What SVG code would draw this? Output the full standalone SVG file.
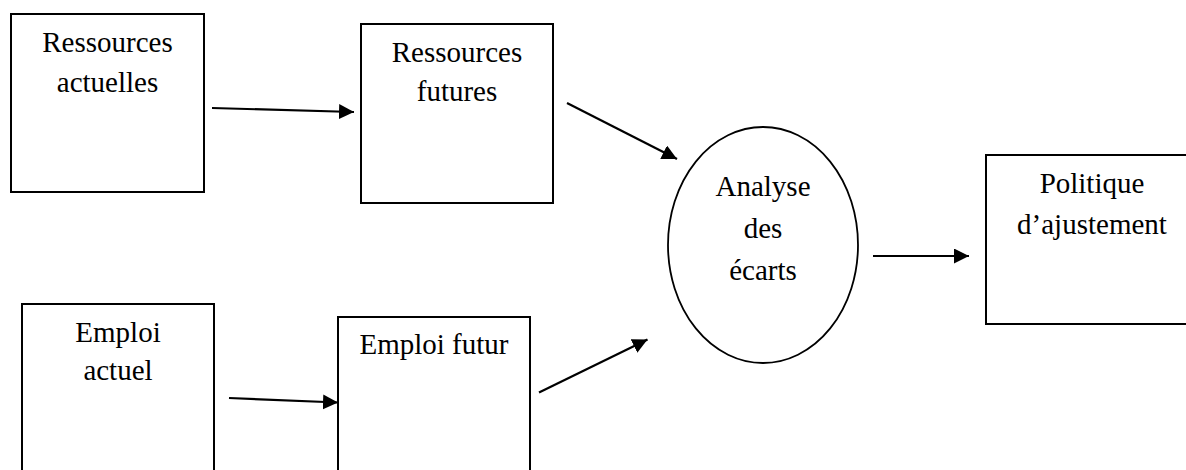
<svg xmlns="http://www.w3.org/2000/svg" width="1186" height="470" viewBox="0 0 1186 470">
  <style>
    .box { fill: #ffffff; stroke: #000000; stroke-width: 2; }
    .oval { fill: #ffffff; stroke: #000000; stroke-width: 1.8; }
    .label { font-family: "Liberation Serif", "Times New Roman", serif; font-size: 29px; fill: #000000; text-anchor: middle; }
    .link { stroke: #000000; stroke-width: 2.2; fill: none; marker-end: url(#head); }
  </style>
  <defs>
    <marker id="head" markerUnits="userSpaceOnUse" markerWidth="16" markerHeight="16" refX="15" refY="7.5" orient="auto">
      <path d="M0,0 L15,7.5 L0,15 z" fill="#000000"/>
    </marker>
  </defs>
  <rect width="1186" height="470" fill="#ffffff"/>

  <g id="ressources-actuelles">
    <rect class="box" x="11" y="14" width="193" height="178"/>
    <text class="label" x="107.5" y="52">Ressources</text>
    <text class="label" x="107.5" y="92">actuelles</text>
  </g>

  <g id="ressources-futures">
    <rect class="box" x="361" y="24" width="192" height="179"/>
    <text class="label" x="457" y="62">Ressources</text>
    <text class="label" x="457" y="101">futures</text>
  </g>

  <g id="emploi-actuel">
    <rect class="box" x="22" y="304" width="192" height="180"/>
    <text class="label" x="118" y="342">Emploi</text>
    <text class="label" x="118" y="380">actuel</text>
  </g>

  <g id="emploi-futur">
    <rect class="box" x="338" y="317" width="192" height="170"/>
    <text class="label" x="434" y="354">Emploi futur</text>
  </g>

  <g id="analyse-des-ecarts">
    <ellipse class="oval" cx="763" cy="245" rx="95" ry="118"/>
    <text class="label" x="763" y="196">Analyse</text>
    <text class="label" x="763" y="238">des</text>
    <text class="label" x="763" y="280">écarts</text>
  </g>

  <g id="politique-ajustement">
    <rect class="box" x="986" y="155" width="212" height="169"/>
    <text class="label" x="1092" y="193">Politique</text>
    <text class="label" x="1092" y="234">d’ajustement</text>
  </g>

  <g id="connectors">
    <line class="link" x1="212" y1="108" x2="354" y2="112"/>
    <line class="link" x1="567" y1="103" x2="677" y2="159"/>
    <line class="link" x1="229" y1="398" x2="338" y2="402.5"/>
    <line class="link" x1="539" y1="392.5" x2="647.5" y2="339.5"/>
    <line class="link" x1="873" y1="256" x2="969" y2="256"/>
  </g>
</svg>
